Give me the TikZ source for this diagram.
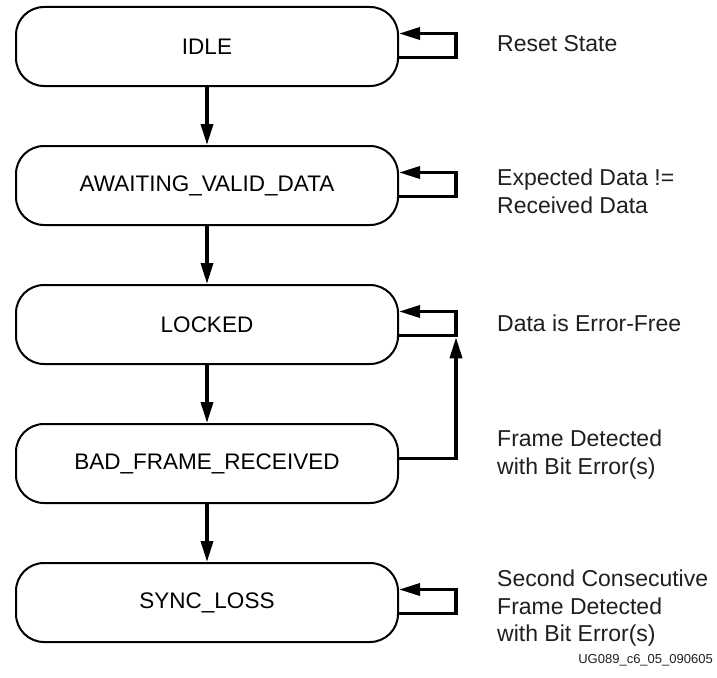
\documentclass[tikz,border=0pt]{standalone}
\usepackage{fontspec}
\setmainfont{Liberation Sans}
\usetikzlibrary{positioning,arrows.meta}

\begin{document}
\begin{tikzpicture}[x=1pt,y=1pt,
	state/.style={draw, line width=2pt, rounded corners=28pt, minimum width=382pt, minimum height=79pt, font=\fontsize{22.5}{26}\selectfont},
	note/.style={anchor=west, inner sep=0pt, align=left, text=black!88, font=\fontsize{23}{27.5}\selectfont},
	flow/.style={line width=3.5pt, line join=miter, -{Triangle[length=21pt,width=12pt]}},
	node distance=58pt]
\useasboundingbox (0,0) rectangle (717,-677);
% states
\node[state] (idle) at (207,-46.5) {IDLE};
\node[state, below=of idle] (awaiting) {AWAITING\_VALID\_DATA};
\node[state, below=of awaiting] (locked) {LOCKED};
\node[state, below=of locked] (badframe) {BAD\_FRAME\_RECEIVED};
\node[state, below=of badframe] (syncloss) {SYNC\_LOSS};
% transitions
\draw[flow] (idle) -- (awaiting);
\draw[flow] (awaiting) -- (locked);
\draw[flow] (locked) -- (badframe);
\draw[flow] (badframe) -- (syncloss);
\foreach \s in {idle, awaiting, locked, syncloss} {
	\draw[flow] ([yshift=-11pt]\s.east) -- ++(57,0) |- ([yshift=13pt]\s.east);
	};
\coordinate (lockcorner) at ([xshift=57pt,yshift=-11pt]locked.east);
\draw[flow, shorten >=1.75pt] ([yshift=5pt]badframe.east) -| (lockcorner);
% conditions
\node[note] (resetnote) at ([xshift=98pt,yshift=3pt]idle.east) {Reset State};
\node[note] (mismatchnote) at ([xshift=98pt,yshift=-6pt]awaiting.east) {Expected Data !=\\Received Data};
\node[note] (errfreenote) at ([xshift=98pt,yshift=1pt]locked.east) {Data is Error-Free};
\node[note] (biterrnote) at ([xshift=98pt,yshift=9pt]badframe.east) {Frame Detected\\with Bit Error(s)};
\node[note] (secondnote) at ([xshift=98pt,yshift=-6pt]syncloss.east) {Second Consecutive\\Frame Detected\\with Bit Error(s)};
\node[anchor=east, inner sep=0pt, text=black!88, font=\fontsize{13}{15}\selectfont] (figid) at (713,-660) {UG089\_c6\_05\_090605};
\end{tikzpicture}
\end{document}
